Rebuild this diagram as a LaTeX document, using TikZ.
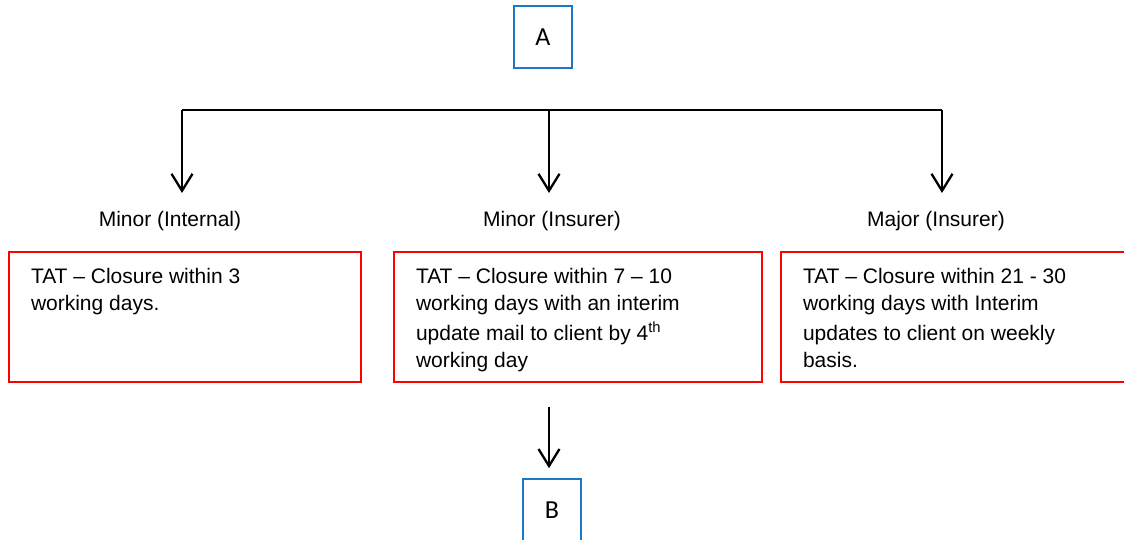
\documentclass[tikz,border=0pt]{standalone}
\usepackage{fontspec}
\setmainfont{Liberation Sans}
\newfontfamily\calibri{Carlito}
\usetikzlibrary{arrows.meta,positioning}

\definecolor{boxblue}{RGB}{30,120,200}

% top aligned text inside the red boxes
\newcommand{\tatlines}[2]{\parbox[t][98pt][t]{#1}{#2}}

\begin{document}
\begin{tikzpicture}[x=1pt, y=-1pt, on grid,
    font=\fontsize{21}{27}\selectfont,
    endbox/.style={draw=boxblue, line width=1.6pt, minimum width=58pt,
      minimum height=62pt, font=\calibri\fontsize{26}{30}\selectfont},
    caption/.style={inner sep=3pt},
    tatbox/.style={draw=red, line width=1.8pt, inner xsep=22pt, inner ysep=16pt},
    drop/.style={line width=2.3pt, -{Straight Barb[length=17pt,width=21pt]}},
    bar/.style={line width=1.2pt}]

  \useasboundingbox (0,0) rectangle (1124,540);

  \node[endbox] (A) at (543,37) {A};
  \coordinate[below=73pt of A, xshift=6pt] (split);
  \coordinate[left=367pt of split] (west);
  \coordinate[right=393pt of split] (east);

  \node[caption, below=98pt of west, xshift=-12pt] (minint) {Minor (Internal)};
  \node[caption, below=98pt of split, xshift=3pt] (minins) {Minor (Insurer)};
  \node[caption, below=98pt of east, xshift=-6pt] (majins) {Major (Insurer)};

  \node[tatbox, below=96pt of minint, xshift=15pt] (intbox)
    {\tatlines{308pt}{TAT -- Closure within 3\\working days.}};
  \node[tatbox, below=96pt of minins, xshift=26pt] (insbox)
    {\tatlines{324pt}{TAT -- Closure within 7 -- 10\\working days with an interim\\[3pt]update mail to client by 4\textsuperscript{th}\\working day}};
  \node[tatbox, below=96pt of majins, xshift=29pt] (majbox)
    {\tatlines{324pt}{TAT -- Closure within 21 - 30\\working days with Interim\\[3pt]updates to client on weekly\\basis.}};

  \node[endbox, below=193pt of insbox, xshift=-26pt] (B) {B};

  \draw[bar] (west) -- (east);
  \foreach \from/\to in {west/minint, split/minins, east/majins}
    \draw[drop, shorten >=15pt] (\from) -- (\from |- \to.north);
  \draw[drop, shorten <=24pt, shorten >=10pt]
    ([xshift=-3pt]B.north |- insbox.south) -- ([xshift=-3pt]B.north);

\end{tikzpicture}
\end{document}
